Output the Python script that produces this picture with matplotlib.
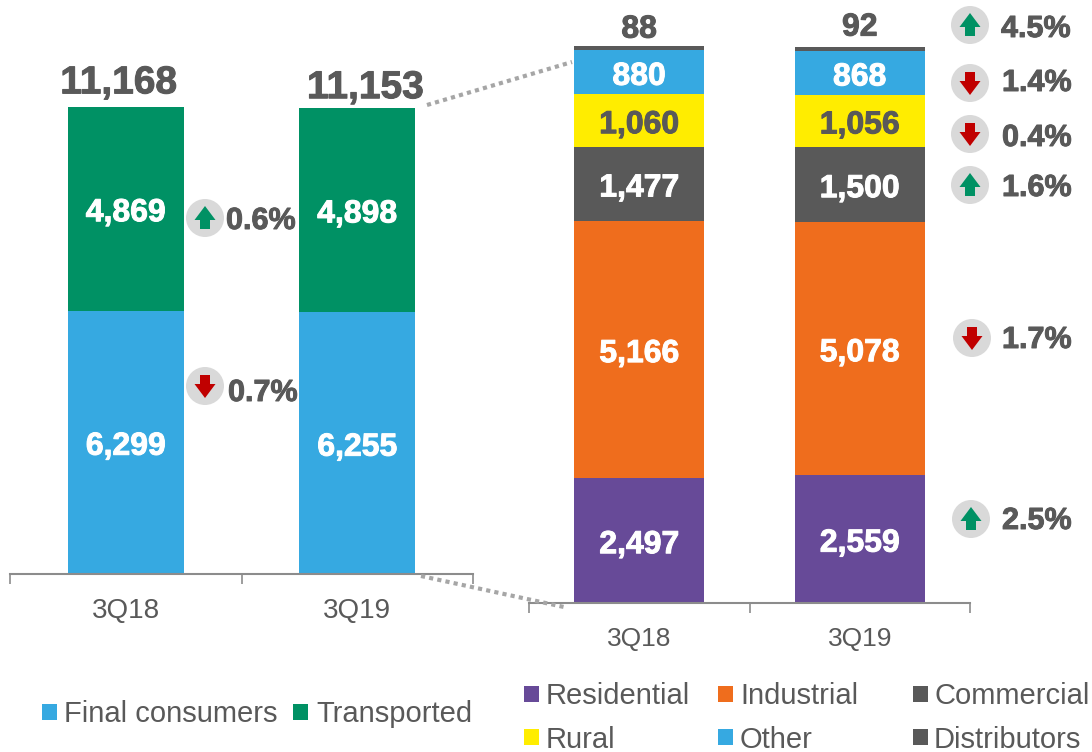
import matplotlib
matplotlib.use('Agg')
import matplotlib.pyplot as plt
import matplotlib.patheffects as pe
from matplotlib.patches import Circle, Polygon, Rectangle

plt.rcParams['font.family'] = ['Liberation Sans', 'DejaVu Sans']

quarters = ['3Q18', '3Q19']

# left chart
final_consumers = [6299, 6255]
transported = [4869, 4898]
left_totals = [11168, 11153]

# right chart, bottom to top
residential = [2497, 2559]
industrial = [5166, 5078]
commercial = [1477, 1500]
rural = [1060, 1056]
other = [880, 868]
distributors = [88, 92]

left_changes = ['0.6%', '0.7%']
right_changes = ['4.5%', '1.4%', '0.4%', '1.6%', '1.7%', '2.5%']
left_up = [True, False]
right_up = [True, False, False, True, False, True]

BLUE = '#36A9E1'
GREEN = '#009164'
PURPLE = '#674A98'
ORANGE = '#EF6D1D'
GRAY = '#595959'
YELLOW = '#FFED00'
AXIS = '#8C8C8C'

W, H = 1092, 752
fig = plt.figure(figsize=(W / 100, H / 100), dpi=100)


def heavy(color):
    # the reference numbers are a bit heavier than Liberation bold
    return [pe.withStroke(linewidth=0.7, foreground=color)]


def px_axes(x0, x1, base):
    # axes rectangle given in pixels, runs from the baseline to the top of the figure
    return fig.add_axes([x0 / W, 1 - base / H, (x1 - x0) / W, base / H], facecolor='none')


def style_axes(ax, ymax, tick_size):
    ax.set_xlim(-0.5, 1.5)
    ax.set_ylim(0, ymax)
    for side in ['top', 'left', 'right']:
        ax.spines[side].set_visible(False)
    ax.spines['bottom'].set_color(AXIS)
    ax.spines['bottom'].set_linewidth(1.5)
    ax.set_yticks([])
    ax.set_xticks([-0.5, 0.5, 1.5])
    ax.set_xticklabels([])
    ax.tick_params(axis='x', which='major', length=7, width=1.2, color=AXIS)
    ax.set_xticks([0, 1], minor=True)
    ax.set_xticklabels(quarters, minor=True, fontsize=tick_size, color=GRAY)
    ax.tick_params(axis='x', which='minor', length=0, pad=17)


def stack(ax, series, colors, width, text_colors):
    bottom = [0, 0]
    conts = []
    for vals, c, tc in zip(series, colors, text_colors):
        bars = ax.bar([0, 1], vals, width, bottom=bottom, color=c)
        if tc is not None:
            labs = ax.bar_label(bars, labels=[f'{v:,}' for v in vals], label_type='center',
                                color=tc, fontsize=23, fontweight='bold',
                                path_effects=heavy(tc))
            for t in labs:
                t.xyann = (0, -3.2)
        conts.append(bars)
        bottom = [b + v for b, v in zip(bottom, vals)]
    return conts


# left stacked bars
ax1 = px_axes(10, 473, 574)
style_axes(ax1, 574 / 0.04182, 20)
conts = stack(ax1, [final_consumers, transported], [BLUE, GREEN], 0.5, ['white', 'white'])
labs = ax1.bar_label(conts[-1], labels=[f'{v:,}' for v in left_totals],
                     color=GRAY, fontsize=28, fontweight='bold', path_effects=heavy(GRAY))
labs[0].xyann = (-5, 4)
labs[1].xyann = (6, 1)

# right stacked bars
ax2 = px_axes(529, 970, 603)
style_axes(ax2, 603 / 0.04987, 19)
conts = stack(ax2, [residential, industrial, commercial, rural, other, distributors],
              [PURPLE, ORANGE, GRAY, YELLOW, BLUE, GRAY], 0.59,
              ['white', 'white', 'white', GRAY, 'white', None])
labs = ax2.bar_label(conts[-1], labels=[f'{v:,}' for v in distributors],
                     color=GRAY, fontsize=23, fontweight='bold', path_effects=heavy(GRAY))
labs[0].xyann = (0, 1)
labs[1].xyann = (0, 3)

# overlay in pixel coordinates for badges, connectors and legends
ov = fig.add_axes([0, 0, 1, 1], facecolor='none')
ov.set_xlim(0, W)
ov.set_ylim(H, 0)
ov.axis('off')

ov.plot([427, 572], [105, 62], color='#A6A6A6', lw=3, ls=(0, (1, 1)))
ov.plot([421, 564], [576, 607], color='#A6A6A6', lw=3, ls=(0, (1, 1)))

ARROW = [(-5, 11), (5, 11), (5, 2), (10.5, 2), (0, -12), (-10.5, 2), (-5, 2)]


def badge(cx, cy, up, label, tx, ty):
    ov.add_patch(Circle((cx, cy), 19, color='#D9D9D9', lw=0))
    if up:
        pts = [(cx + a, cy + b) for a, b in ARROW]
        col = GREEN
    else:
        pts = [(cx + a, cy - b) for a, b in ARROW]
        col = '#C00000'
    ov.add_patch(Polygon(pts, color=col, lw=0))
    ov.text(tx, ty, label, color=GRAY, fontsize=22, fontweight='bold', ha='left', va='center',
            path_effects=heavy(GRAY))


left_badges = [(205, 218, 226, 221), (205, 386, 228, 393)]
right_badges = [(970, 25, 1001, 29), (970, 83, 1002, 83), (970, 134, 1002, 138),
                (970, 185, 1002, 188), (972, 338, 1002, 340), (971, 519, 1002, 521)]
for (cx, cy, tx, ty), lab, up in zip(left_badges, left_changes, left_up):
    badge(cx, cy, up, lab, tx, ty)
for (cx, cy, tx, ty), lab, up in zip(right_badges, right_changes, right_up):
    badge(cx, cy, up, lab, tx, ty)

legend_items = [
    ('Final consumers', BLUE, 42, 712, 64),
    ('Transported', GREEN, 293, 712, 316),
    ('Residential', PURPLE, 524, 694, 546),
    ('Industrial', ORANGE, 718, 694, 740),
    ('Commercial', GRAY, 913, 694, 934),
    ('Rural', YELLOW, 524, 737, 546),
    ('Other', BLUE, 718, 737, 740),
    ('Distributors', GRAY, 913, 737, 934),
]
for name, col, sx, y, tx in legend_items:
    ov.add_patch(Rectangle((sx, y - 8), 15, 16, color=col, lw=0))
    ov.text(tx, y + 2.5, name, color=GRAY, fontsize=21, ha='left', va='center')

fig.savefig('out.png', dpi=100)
